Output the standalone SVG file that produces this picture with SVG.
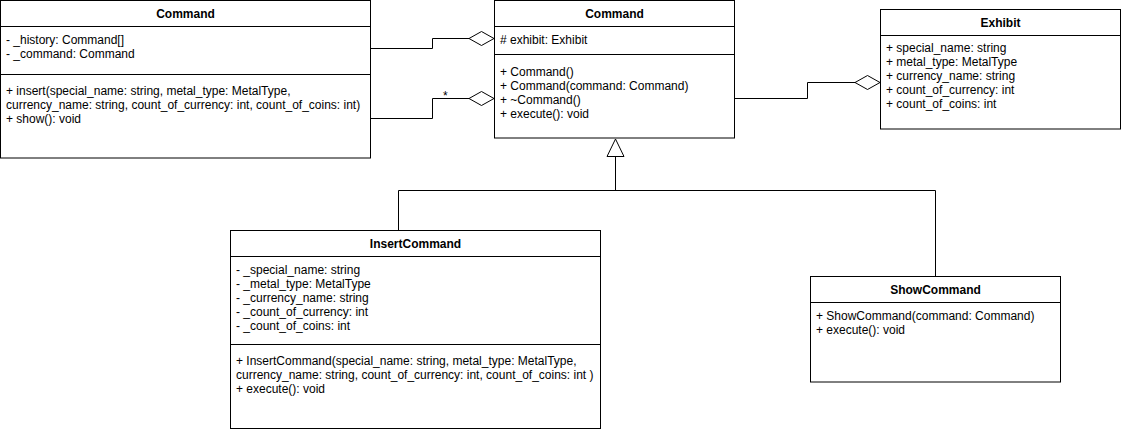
<svg xmlns="http://www.w3.org/2000/svg" width="1121" height="432" viewBox="0 0 1121 432">
<style>
.box{fill:#fff;stroke:#000;stroke-width:1}
.ln{stroke:#000;stroke-width:1;fill:none}
.t{font-family:"Liberation Sans",Arial,sans-serif;font-size:12px;fill:#000}
.h{font-family:"Liberation Sans",Arial,sans-serif;font-size:12px;font-weight:bold;fill:#000;text-anchor:middle}
.dia{fill:#fff;stroke:#000;stroke-width:1}
</style>
<rect width="1121" height="432" fill="#fff"/>
<g id="connectors">
  <polyline class="ln" points="370.5,48.5 432.5,48.5 432.5,38.5 469,38.5"/>
  <polygon class="dia" points="469,38.5 481.5,31.5 494,38.5 481.5,45.5"/>
  <polyline class="ln" points="370.5,118.5 432.5,118.5 432.5,98.5 469,98.5"/>
  <polygon class="dia" points="469,98.5 481.5,91.5 494,98.5 481.5,105.5"/>
  <text class="t" x="443" y="100">*</text>
  <polyline class="ln" points="734.5,98.5 807.5,98.5 807.5,82.5 855,82.5"/>
  <polygon class="dia" points="855,82.5 867.5,75.5 880,82.5 867.5,89.5"/>
  <polyline class="ln" points="398.5,230.5 398.5,190.5 935.5,190.5 935.5,276.5"/>
  <line class="ln" x1="615.5" y1="190.5" x2="615.5" y2="156.5"/>
  <polygon class="dia" points="615.5,139 624,156.5 607,156.5"/>
</g>
<g id="node-command-client">
  <rect class="box" x="0.5" y="0.5" width="370" height="157.5"/>
  <line class="ln" x1="0.5" y1="26.5" x2="370.5" y2="26.5"/>
  <line class="ln" x1="0.5" y1="74.5" x2="370.5" y2="74.5"/>
  <text class="h" x="185.5" y="18">Command</text>
  <text class="t" x="6" y="44">- _history: Command[]</text>
  <text class="t" x="6" y="58">- _command: Command</text>
  <text class="t" x="6" y="95">+ insert(special_name: string, metal_type: MetalType,</text>
  <text class="t" x="6" y="109">currency_name: string, count_of_currency: int, count_of_coins: int)</text>
  <text class="t" x="6" y="123">+ show(): void</text>
</g>
<g id="node-command">
  <rect class="box" x="494.5" y="0.5" width="240" height="137.5"/>
  <line class="ln" x1="494.5" y1="26.5" x2="734.5" y2="26.5"/>
  <line class="ln" x1="494.5" y1="54.5" x2="734.5" y2="54.5"/>
  <text class="h" x="614.5" y="18">Command</text>
  <text class="t" x="500" y="44"># exhibit: Exhibit</text>
  <text class="t" x="500" y="76">+ Command()</text>
  <text class="t" x="500" y="90">+ Command(command: Command)</text>
  <text class="t" x="500" y="104">+ ~Command()</text>
  <text class="t" x="500" y="118">+ execute(): void</text>
</g>
<g id="node-exhibit">
  <rect class="box" x="880.5" y="9.5" width="240" height="119.5"/>
  <line class="ln" x1="880.5" y1="35.5" x2="1120.5" y2="35.5"/>
  <text class="h" x="1000.5" y="27">Exhibit</text>
  <text class="t" x="886" y="52">+ special_name: string</text>
  <text class="t" x="886" y="66">+ metal_type: MetalType</text>
  <text class="t" x="886" y="80">+ currency_name: string</text>
  <text class="t" x="886" y="94">+ count_of_currency: int</text>
  <text class="t" x="886" y="108">+ count_of_coins: int</text>
</g>
<g id="node-insertcommand">
  <rect class="box" x="230.5" y="230.5" width="370" height="198"/>
  <line class="ln" x1="230.5" y1="256.5" x2="600.5" y2="256.5"/>
  <line class="ln" x1="230.5" y1="344.5" x2="600.5" y2="344.5"/>
  <text class="h" x="415.5" y="248">InsertCommand</text>
  <text class="t" x="236" y="274">- _special_name: string</text>
  <text class="t" x="236" y="288">- _metal_type: MetalType</text>
  <text class="t" x="236" y="302">- _currency_name: string</text>
  <text class="t" x="236" y="316">- _count_of_currency: int</text>
  <text class="t" x="236" y="330">- _count_of_coins: int</text>
  <text class="t" x="236" y="365">+ InsertCommand(special_name: string, metal_type: MetalType,</text>
  <text class="t" x="236" y="379">currency_name: string, count_of_currency: int, count_of_coins: int )</text>
  <text class="t" x="236" y="393">+ execute(): void</text>
</g>
<g id="node-showcommand">
  <rect class="box" x="810.5" y="276.5" width="250" height="105.5"/>
  <line class="ln" x1="810.5" y1="302.5" x2="1060.5" y2="302.5"/>
  <text class="h" x="935.5" y="294">ShowCommand</text>
  <text class="t" x="816" y="320">+ ShowCommand(command: Command)</text>
  <text class="t" x="816" y="334">+ execute(): void</text>
</g>
</svg>
